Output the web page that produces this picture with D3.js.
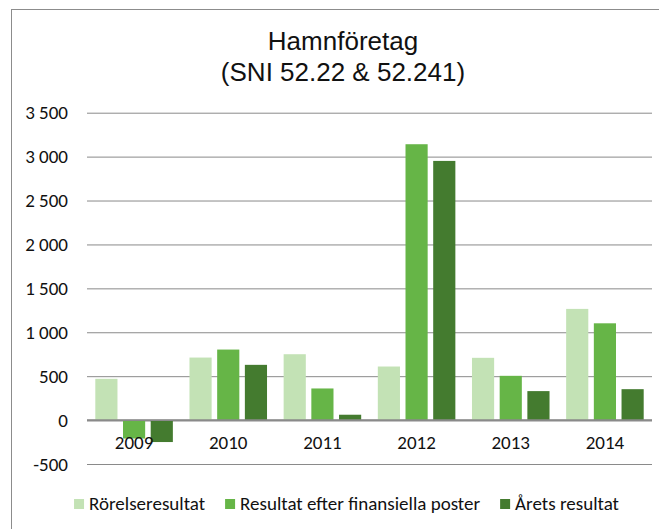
<!DOCTYPE html>
<html>
<head>
<meta charset="utf-8">
<script src="https://cdn.jsdelivr.net/npm/d3@7"></script>
<style>
  body { margin: 0; background: #fff; }
  svg { display: block; }
  .lbl { font-family: Carlito, "Open Sans", sans-serif; font-size: 19px; fill: #111; }
</style>
</head>
<body>
<div id="chart"></div>
<script>
// values
const years = ['2009', '2010', '2011', '2012', '2013', '2014'];
const seriesNames = ['Rörelseresultat', 'Resultat efter finansiella poster', 'Årets resultat'];
const rorelse = [470, 712, 750, 610, 709, 1266];
const efterFin = [-210, 803, 360, 3141, 504, 1102];
const aretsRes = [-250, 629, 61, 2951, 330, 352];
const yTicks = [-500, 0, 500, 1000, 1500, 2000, 2500, 3000, 3500];
const colors = ['#c3e2b5', '#66b547', '#447b2f'];

const W = 659, H = 529;
const svg = d3.select('#chart').append('svg')
  .attr('width', W).attr('height', H);

// chart frame (runs off the right and bottom edge like the reference)
svg.append('rect')
  .attr('x', 11.5).attr('y', 9.5)
  .attr('width', 700).attr('height', 600)
  .style('fill', 'none').style('stroke', '#8c8c8c').style('stroke-width', 1);

// title
const title = svg.append('text')
  .attr('text-anchor', 'middle')
  .style('font-family', '"Liberation Sans", Arial, sans-serif')
  .style('font-size', '26px')
  .style('fill', '#111');
title.append('tspan').attr('x', 343).attr('y', 50).text('Hamnföretag');
title.append('tspan').attr('x', 343).attr('y', 81).text('(SNI 52.22 & 52.241)');

const y = d3.scaleLinear().domain([-500, 3500]).range([464, 112.7]);
const x0 = d3.scaleBand().domain(years).range([87, 652]);
const x1 = d3.scaleBand().domain(seriesNames)
  .range([0, x0.bandwidth()]).paddingInner(0.2).paddingOuter(0.3);

// gridlines + y labels via axis (space as thousands separator, plain hyphen)
const fmt = d => d3.format(',')(d).replace(/,/g, ' ').replace('\u2212', '-');
const yAxis = svg.append('g')
  .attr('transform', 'translate(87,0)')
  .call(d3.axisLeft(y).tickValues(yTicks).tickSize(-(652 - 87)).tickPadding(19)
    .tickFormat(fmt));
yAxis.select('.domain').remove();
yAxis.selectAll('line')
  .style('stroke', '#8a8a8a')
  .style('stroke-width', d => d === 0 ? 1.6 : 1);
yAxis.selectAll('text')
  .attr('class', 'lbl')
  .attr('dy', '0.32em');

// bars
const rows = years.map((yr, i) => ({
  year: yr,
  vals: [rorelse[i], efterFin[i], aretsRes[i]]
}));

const groups = svg.append('g').selectAll('g')
  .data(rows)
  .enter()
    .append('g')
    .attr('transform', d => 'translate(' + x0(d.year) + ',0)');

groups.selectAll('rect')
  .data(d => d.vals.map((v, j) => ({name: seriesNames[j], v: v, j: j})))
  .enter()
    .append('rect')
    .attr('x', d => x1(d.name))
    .attr('width', x1.bandwidth())
    .attr('y', d => y(Math.max(0, d.v)))
    .attr('height', d => Math.abs(y(d.v) - y(0)))
    .style('fill', d => colors[d.j]);

// redraw zero line on top of bars
svg.append('line')
  .attr('x1', 87).attr('x2', 652)
  .attr('y1', y(0)).attr('y2', y(0))
  .style('stroke', '#8a8a8a').style('stroke-width', 1.6);

// category labels just under the zero line
svg.append('g').selectAll('text')
  .data(years)
  .enter()
    .append('text')
    .attr('class', 'lbl')
    .attr('text-anchor', 'middle')
    .attr('x', d => x0(d) + x0.bandwidth() / 2)
    .attr('y', 449)
    .text(d => d);

// legend, flowed left to right and centred
const legend = svg.append('g');
const items = legend.selectAll('g')
  .data(seriesNames)
  .enter()
    .append('g');
items.append('rect')
  .attr('width', 10).attr('height', 10)
  .attr('y', 499)
  .style('fill', (d, i) => colors[i]);
items.append('text')
  .attr('class', 'lbl')
  .attr('x', 15).attr('y', 510)
  .text(d => d);

let pos = 0;
const offsets = [];
items.each(function () {
  const w = 15 + this.querySelector('text').getComputedTextLength();
  offsets.push(pos);
  pos += w + 20;
});
const total = pos - 20;
const start = 346.5 - total / 2;
items.attr('transform', (d, i) => 'translate(' + (start + offsets[i]) + ',0)');
</script>
</body>
</html>
